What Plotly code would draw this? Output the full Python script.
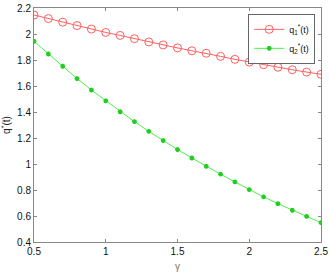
import plotly.graph_objects as go

gamma = [0.5, 0.6, 0.7, 0.8, 0.9, 1.0, 1.1, 1.2, 1.3, 1.4, 1.5,
         1.6, 1.7, 1.8, 1.9, 2.0, 2.1, 2.2, 2.3, 2.4, 2.5]
q1 = [2.146, 2.119, 2.091, 2.065, 2.038, 2.012, 1.989, 1.964, 1.939, 1.916, 1.893,
      1.871, 1.852, 1.828, 1.805, 1.784, 1.764, 1.744, 1.725, 1.707, 1.690]
q2 = [1.944, 1.846, 1.752, 1.657, 1.569, 1.486, 1.402, 1.326, 1.251, 1.180, 1.111,
      1.046, 0.982, 0.922, 0.862, 0.803, 0.747, 0.695, 0.644, 0.597, 0.549]
xticks = [0.5, 1, 1.5, 2, 2.5]
yticks = [0.4, 0.6, 0.8, 1.0, 1.2, 1.4, 1.6, 1.8, 2.0, 2.2]

fig = go.Figure()
fig.add_trace(go.Scatter(
    x=gamma, y=q1, mode="lines+markers", name="q<sub>1</sub><sup>*</sup>(t)",
    line=dict(color="#ff5f5f", width=1),
    marker=dict(symbol="circle-open", size=8, color="#ff5f5f", line=dict(width=1)),
))
fig.add_trace(go.Scatter(
    x=gamma, y=q2, mode="lines+markers", name="q<sub>2</sub><sup>*</sup>(t)",
    line=dict(color="#4cf04c", width=1),
    marker=dict(symbol="asterisk-open", size=4, color="#22cc22", line=dict(width=1.5, color="#22cc22")),
))

axis_common = dict(
    showgrid=False, zeroline=False, showline=True, mirror="ticks", automargin=False,
    linecolor="#888888", linewidth=1, ticks="inside", ticklen=3,
    tickcolor="#888888", tickfont=dict(family="Arial", size=10, color="#111111"),
)
fig.update_xaxes(range=[0.5, 2.5], tickvals=xticks, ticktext=[str(v) for v in xticks],
                 title=dict(text="γ", font=dict(family="Arial", size=10, color="#777777"), standoff=6),
                 **axis_common)
fig.update_yaxes(range=[0.4, 2.2], tickvals=yticks, ticktext=["%g" % v for v in yticks],
                 title=dict(text="q<sup>*</sup>(t)", font=dict(family="Arial", size=10, color="#222222"), standoff=4),
                 **axis_common)
fig.update_layout(
    width=330, height=275,
    margin=dict(l=34, r=9, t=8, b=33, autoexpand=False),
    paper_bgcolor="white", plot_bgcolor="white",
    showlegend=True,
    legend=dict(x=0.98, y=0.975, xanchor="right", yanchor="top",
                bordercolor="#666666", borderwidth=1, bgcolor="white",
                font=dict(family="Arial", size=9, color="#111111"),
                tracegroupgap=0, itemwidth=30),
)
fig.write_html("out.html", config={"displayModeBar": False},
               post_script="document.body.style.margin='0';document.body.style.padding='0';")
